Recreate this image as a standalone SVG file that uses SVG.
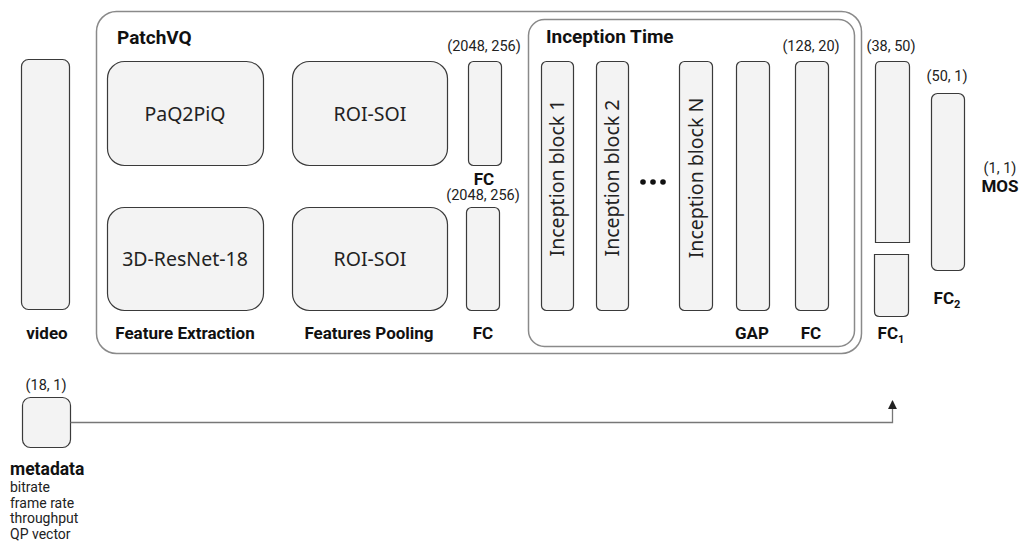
<svg xmlns="http://www.w3.org/2000/svg" width="1024" height="542" viewBox="0 0 1024 542">
<style>
.box{fill:#f3f3f3;stroke:#3a3a3a;stroke-width:1.2}
.frame{fill:none;stroke:#8a8a8a;stroke-width:1.5}
.big{font-family:"Noto Sans","Open Sans",sans-serif;font-size:19.5px;fill:#222;text-anchor:middle}
.lbl{font-family:Roboto,"Liberation Sans",sans-serif;font-size:17px;font-weight:bold;fill:#111;text-anchor:middle}
.ttl{font-family:Roboto,"Liberation Sans",sans-serif;font-size:19px;font-weight:bold;fill:#111}
.dim{font-family:Roboto,"Liberation Sans",sans-serif;font-size:14.5px;fill:#222;text-anchor:middle}
.meta{font-family:Roboto,"Liberation Sans",sans-serif;font-size:14px;fill:#222}
.metat{font-family:Roboto,"Liberation Sans",sans-serif;font-size:17.5px;font-weight:bold;fill:#111}
</style>
<defs>
<marker id="arr" viewBox="0 0 10 10" refX="9" refY="5" markerWidth="7" markerHeight="7" orient="auto">
<path d="M0,0 L10,5 L0,10 z" fill="#222"/>
</marker>
</defs>
<rect width="1024" height="542" fill="#fff"/>

<g id="patchvq">
<rect class="frame" x="96.5" y="11.5" width="765" height="342" rx="20"/>
<text class="ttl" x="117" y="44">PatchVQ</text>
</g>

<g id="inception-time">
<rect class="frame" x="528.5" y="19.5" width="326" height="327" rx="16"/>
<text class="ttl" x="546" y="43">Inception Time</text>
</g>

<g id="video">
<rect class="box" x="21.5" y="59.5" width="48" height="250" rx="7"/>
<text class="lbl" x="47" y="339">video</text>
</g>

<g id="paq2piq">
<rect class="box" x="107.5" y="61.5" width="156" height="104" rx="17"/>
<text class="big" x="185" y="121">PaQ2PiQ</text>
</g>

<g id="resnet">
<rect class="box" x="107.5" y="207.5" width="156" height="103" rx="17"/>
<text class="big" x="185" y="266">3D-ResNet-18</text>
<text class="lbl" x="185" y="339">Feature Extraction</text>
</g>

<g id="roi-soi-1">
<rect class="box" x="292.5" y="61.5" width="155" height="104" rx="17"/>
<text class="big" x="370" y="121">ROI-SOI</text>
</g>

<g id="roi-soi-2">
<rect class="box" x="292.5" y="207.5" width="155" height="103" rx="17"/>
<text class="big" x="370" y="266">ROI-SOI</text>
<text class="lbl" x="369" y="339">Features Pooling</text>
</g>

<g id="fc-top">
<text class="dim" x="484" y="51">(2048, 256)</text>
<rect class="box" x="468.5" y="61.5" width="33" height="104" rx="5"/>
<text class="lbl" x="484" y="185">FC</text>
</g>

<g id="fc-bottom">
<text class="dim" x="483" y="200">(2048, 256)</text>
<rect class="box" x="466.5" y="207.5" width="33" height="103" rx="5"/>
<text class="lbl" x="483" y="339">FC</text>
</g>

<g id="inception-block-1">
<rect class="box" x="541.5" y="61.5" width="32" height="249" rx="5"/>
<text class="big" transform="translate(564,178) rotate(-90)">Inception block 1</text>
</g>

<g id="inception-block-2">
<rect class="box" x="596.5" y="61.5" width="32" height="249" rx="5"/>
<text class="big" transform="translate(619,178) rotate(-90)">Inception block 2</text>
</g>

<g id="dots">
<circle cx="643" cy="182" r="2.8" fill="#111"/>
<circle cx="653" cy="182" r="2.8" fill="#111"/>
<circle cx="663" cy="182" r="2.8" fill="#111"/>
</g>

<g id="inception-block-n">
<rect class="box" x="679.5" y="61.5" width="33" height="249" rx="5"/>
<text class="big" transform="translate(703,178) rotate(-90)">Inception block N</text>
</g>

<g id="gap">
<rect class="box" x="736.5" y="61.5" width="33" height="249" rx="5"/>
<text class="lbl" x="752" y="339">GAP</text>
</g>

<g id="fc-inception">
<text class="dim" x="811" y="51">(128, 20)</text>
<rect class="box" x="795.5" y="61.5" width="33" height="249" rx="5"/>
<text class="lbl" x="811" y="339">FC</text>
</g>

<g id="fc1">
<text class="dim" x="891" y="51">(38, 50)</text>
<path class="box" d="M875.5,242.5 V66.5 Q875.5,61.5 880.5,61.5 H904.5 Q909.5,61.5 909.5,66.5 V242.5 Z"/>
<path class="box" d="M874.5,254.5 H908.5 V311.5 Q908.5,316.5 903.5,316.5 H879.5 Q874.5,316.5 874.5,311.5 Z"/>
<text class="lbl" x="891" y="339">FC<tspan style="font-size:11px" dy="4">1</tspan></text>
</g>

<g id="fc2">
<text class="dim" x="947" y="81">(50, 1)</text>
<rect class="box" x="931.5" y="93.5" width="33" height="177" rx="6"/>
<text class="lbl" x="947" y="304">FC<tspan style="font-size:11px" dy="4">2</tspan></text>
</g>

<g id="mos">
<text class="dim" x="1000" y="173">(1, 1)</text>
<text class="lbl" x="1000" y="192">MOS</text>
</g>

<g id="metadata">
<text class="dim" x="46" y="390">(18, 1)</text>
<rect class="box" x="22.5" y="397.5" width="48" height="50" rx="8"/>
<text class="metat" x="10" y="475">metadata</text>
<text class="meta" x="10" y="492">bitrate</text>
<text class="meta" x="10" y="507.5">frame rate</text>
<text class="meta" x="10" y="523">throughput</text>
<text class="meta" x="10" y="538.5">QP vector</text>
</g>

<g id="connectors">
<polyline points="70.5,422.5 892.5,422.5 892.5,401" fill="none" stroke="#777" stroke-width="1.3" marker-end="url(#arr)"/>
</g>
</svg>
